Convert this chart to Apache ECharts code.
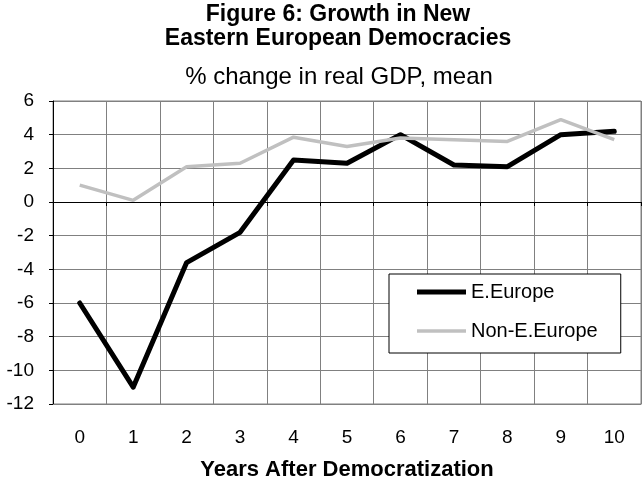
<!DOCTYPE html>
<html>
<head>
<meta charset="utf-8">
<script src="https://cdn.jsdelivr.net/npm/echarts@6/dist/echarts.min.js"></script>
<style>
html,body{margin:0;padding:0;background:#fff;}
#chart{width:642px;height:483px;}
</style>
</head>
<body>
<div id="chart"></div>
<script>
var categories = ['0','1','2','3','4','5','6','7','8','9','10'];
var eEurope = [-6.0, -11.0, -3.6, -1.8, 2.5, 2.3, 4.0, 2.2, 2.1, 4.0, 4.2];
var nonEEurope = [1.0, 0.1, 2.1, 2.3, 3.85, 3.3, 3.8, 3.7, 3.6, 4.9, 3.7];
var seriesNames = ['E.Europe', 'Non-E.Europe'];
var titleText = 'Figure 6: Growth in New\nEastern European Democracies';
var subtitleText = '% change in real GDP, mean';
var xAxisName = 'Years After Democratization';

var FONT = '"Liberation Sans", Arial, sans-serif';
var chart = echarts.init(document.getElementById('chart'), null, {renderer: 'canvas'});
chart.setOption({
  backgroundColor: '#ffffff',
  animation: false,
  title: [{
    text: titleText,
    left: 338, top: 3, padding: 0, textAlign: 'center',
    textStyle: {fontFamily: FONT, fontSize: 23, fontWeight: 'bold', color: '#000', lineHeight: 24}
  }, {
    text: subtitleText,
    left: 339, top: 65, padding: 0, textAlign: 'center',
    textStyle: {fontFamily: FONT, fontSize: 24, fontWeight: 'normal', color: '#000', lineHeight: 24}
  }],
  legend: {
    orient: 'vertical',
    left: 389, top: 274,
    padding: [8, 23, 12, 28],
    itemWidth: 49, itemHeight: 14, itemGap: 19,
    backgroundColor: '#fff',
    borderColor: '#000', borderWidth: 1,
    textStyle: {fontFamily: FONT, fontSize: 20, color: '#000'},
    data: [
      {name: seriesNames[0], icon: 'path://M0,0H49V5H0Z'},
      {name: seriesNames[1], icon: 'path://M0,0H49V3.5H0Z'}
    ]
  },
  grid: {left: 53, right: 1, top: 101, height: 303, outerBoundsMode: 'none', containLabel: false,
         show: true, borderColor: '#808080', borderWidth: 1, backgroundColor: '#fff'},
  xAxis: [{
    type: 'category', data: categories, position: 'bottom', boundaryGap: true,
    axisLine: {show: true, onZero: false, lineStyle: {color: '#808080'}},
    axisTick: {show: false},
    splitLine: {show: true, lineStyle: {color: '#808080', width: 1}},
    axisLabel: {margin: 24, fontFamily: FONT, fontSize: 19, color: '#000'},
    name: xAxisName, nameLocation: 'middle', nameGap: 55,
    nameTextStyle: {fontFamily: FONT, fontSize: 22, fontWeight: 'bold', color: '#000'}
  }, {
    type: 'category', data: categories, position: 'top', boundaryGap: true,
    axisLine: {show: true, onZero: true, lineStyle: {color: '#000', width: 1}},
    axisTick: {show: true, inside: true, length: 4, lineStyle: {color: '#000'}},
    axisLabel: {show: false},
    splitLine: {show: false}
  }],
  yAxis: {
    type: 'value', min: -12, max: 6, interval: 2,
    axisLine: {show: true, lineStyle: {color: '#000'}},
    axisTick: {show: true, length: 4, lineStyle: {color: '#000'}},
    splitLine: {show: true, lineStyle: {color: '#808080', width: 1}},
    axisLabel: {margin: 19, fontFamily: FONT, fontSize: 19, color: '#000'}
  },
  series: [{
    name: seriesNames[0], type: 'line', data: eEurope, xAxisIndex: 0,
    symbol: 'none', showSymbol: false,
    lineStyle: {color: '#000', width: 5, join: 'round', cap: 'round'},
    itemStyle: {color: '#000'}
  }, {
    name: seriesNames[1], type: 'line', data: nonEEurope, xAxisIndex: 0,
    symbol: 'none', showSymbol: false,
    lineStyle: {color: '#c0c0c0', width: 3.5},
    itemStyle: {color: '#c0c0c0'}
  }]
});
</script>
</body>
</html>
